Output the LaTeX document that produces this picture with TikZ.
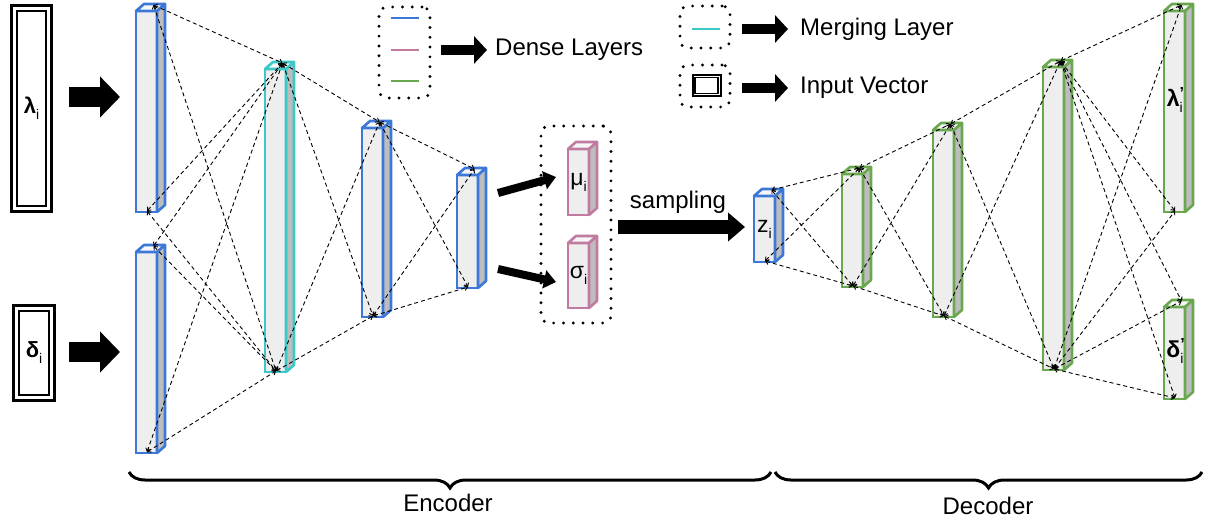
\documentclass[tikz,border=0pt]{standalone}
\usepackage{fontspec}
\setmainfont{Liberation Sans}
\usetikzlibrary{arrows.meta,calc,decorations.pathreplacing}

\definecolor{lblue}{HTML}{3C78D8}
\definecolor{lcyan}{HTML}{3CC8C8}
\definecolor{lpink}{HTML}{C27BA0}
\definecolor{lgreen}{HTML}{6AA84F}
\definecolor{facegray}{HTML}{EEEEEE}
\definecolor{topgray}{HTML}{F7F7F7}
\definecolor{sidegray}{HTML}{BDBDBD}

% label with a lowered index
\newcommand\lsub[2]{#1\raisebox{-6pt}{\fontsize{14}{14}\selectfont\mdseries #2}}
% label with a lowered index and a raised prime
\newcommand\lsubsup[3]{#1\rlap{\raisebox{-6pt}{\fontsize{14}{14}\selectfont\mdseries #2}}\raisebox{8pt}{\fontsize{16}{16}\selectfont #3}}

\tikzset{
  front/.style={draw=#1, fill=facegray, line width=2.6pt, rectangle, inner sep=0pt,
    outer sep=0pt, minimum width=21pt, font=\fontsize{22}{24}\selectfont},
  face/.style={draw=#1, line width=2.6pt, line join=round},
  link/.style={line width=0.9pt, dash pattern=on 4pt off 3pt,
    {Straight Barb[length=3pt,width=5pt]}-{Straight Barb[length=3pt,width=5pt]}},
  dotbox/.style={draw, line width=3.2pt, dash pattern=on 0pt off 9.8pt, line cap=round,
    rounded corners=8pt, inner sep=0pt, outer sep=0pt},
  inbox/.style={draw, line width=3pt, inner sep=0pt, outer sep=0pt,
    font=\fontsize{22}{24}\selectfont},
  bigarrow/.style={line width=20pt, -{Triangle[length=20pt,width=40pt]}},
  samparrow/.style={line width=14pt, -{Triangle[length=17pt,width=28pt]}},
  midarrow/.style={line width=8pt, -{Triangle[length=12pt,width=18pt]}},
  legarrow/.style={line width=10pt, -{Triangle[length=13pt,width=27pt]}},
  legline/.style={line width=2.8pt},
  txt/.style={font=\fontsize{24}{27}\selectfont, inner sep=0pt},
}

% one dense layer drawn as a prism: name, colour, left, top, bottom, label
\newcommand\layerbox[6]{%
  \pgfmathsetmacro\lbh{#5-#4}%
  \pgfmathsetmacro\lbx{#3+10.5}%
  \pgfmathsetmacro\lby{(#4+#5)/2}%
  \node[front=#2, minimum height=\lbh pt] (#1) at (\lbx,\lby) {};
  \filldraw[face=#2, fill=topgray] (#1.north west) -- ++(8,-7) -- ++(21,0) -- (#1.north east) -- cycle;
  \filldraw[face=#2, fill=sidegray] (#1.north east) -- ++(8,-7) -- ($(#1.south east)+(8,-7)$) -- (#1.south east) -- cycle;
  \node[font=\fontsize{23}{25}\selectfont, inner sep=0pt] (#1-lab) at (#1.center) {#6};
  \coordinate (#1-t) at ($(#1.north)+(7,-6)$);
  \coordinate (#1-b) at ($(#1.south)+(0.5,-1)$);
}

\begin{document}
\begin{tikzpicture}[x=1pt, y=-1pt]
\useasboundingbox (0,0) rectangle (1214,521);

% input vectors
\node[inbox, minimum width=40pt, minimum height=206pt] (lam) at (31.5,108.5) {\lsub{\bfseries λ}{i}};
\draw[line width=2.2pt] ($(lam.north west)+(5.5,5.5)$) rectangle ($(lam.south east)+(-5.5,-5.5)$);
\node[inbox, minimum width=41pt, minimum height=95pt] (del) at (34,353) {\lsub{\bfseries δ}{i}};
\draw[line width=2.2pt] ($(del.north west)+(5.5,5.5)$) rectangle ($(del.south east)+(-5.5,-5.5)$);

% encoder layers
\layerbox{L1}{lblue}{136}{11}{212}{}
\layerbox{L2}{lblue}{136}{252}{453}{}
\layerbox{C}{lcyan}{265}{69}{372}{}
\layerbox{L3}{lblue}{362}{128}{317}{}
\layerbox{L4}{lblue}{457}{175}{288}{}

% latent statistics
\node[dotbox, minimum width=70pt, minimum height=197pt] (ms) at (576,224.5) {};
\layerbox{mu}{lpink}{568}{149}{215}{\lsub{μ}{i}}
\layerbox{sg}{lpink}{568}{243}{308}{\lsub{σ}{i}}

% decoder layers
\layerbox{z}{lblue}{754}{196}{262}{\lsub{z}{i}}
\layerbox{G1}{lgreen}{842}{174}{287}{}
\layerbox{G2}{lgreen}{933}{130}{317}{}
\layerbox{G3}{lgreen}{1043}{67}{370}{}
\layerbox{Lp}{lgreen}{1164}{11}{212}{}
\layerbox{Dp}{lgreen}{1164}{307}{399}{}
\node[font=\fontsize{23}{25}\selectfont\bfseries, inner sep=0pt] (Lp-lab2) at ($(Lp.center)+(1,-12)$) {\lsubsup{λ}{i}{'}};
\node[font=\fontsize{23}{25}\selectfont\bfseries, inner sep=0pt] (Dp-lab2) at ($(Dp.center)+(1,-2)$) {\lsubsup{δ}{i}{'}};

% fully connected links
\foreach \a/\b in {L1/C, L2/C, C/L3, L3/L4, z/G1, G1/G2, G2/G3, G3/Lp, G3/Dp}
  \foreach \p in {t,b}
    \foreach \q in {t,b}
      \draw[link] (\a-\p) -- (\b-\q);

% block arrows
\coordinate (a1s) at (69,97);   \coordinate (a1e) at (120,97);
\coordinate (a2s) at (69,352);  \coordinate (a2e) at (120,352);
\draw[bigarrow] (a1s) -- (a1e);
\draw[bigarrow] (a2s) -- (a2e);
\coordinate (m1s) at (498,193); \coordinate (m1e) at (556,177);
\coordinate (m2s) at (498,269); \coordinate (m2e) at (556,282);
\draw[midarrow] (m1s) -- (m1e);
\draw[midarrow] (m2s) -- (m2e);
\coordinate (ss) at (618,227);  \coordinate (se) at (745,227);
\draw[samparrow] (ss) -- (se);
\node[txt] (samp) at (678,202) {sampling};

% legend
\node[dotbox, minimum width=51pt, minimum height=91pt] (leg1) at (404.5,52.5) {};
\draw[legline, lblue] ($(leg1.center)+(-14,-34.5)$) -- ++(28,0);
\draw[legline, lpink] ($(leg1.center)+(-14,-2.5)$) -- ++(28,0);
\draw[legline, lgreen] ($(leg1.center)+(-14,28.5)$) -- ++(28,0);
\coordinate (g1s) at (441,50); \coordinate (g1e) at (487,50);
\draw[legarrow] (g1s) -- (g1e);
\node[txt, anchor=west] (t1) at (495,50) {Dense Layers};

\node[dotbox, minimum width=50pt, minimum height=42pt] (leg2) at (705,27) {};
\draw[legline, lcyan] ($(leg2.center)+(-13,2)$) -- ++(28,0);
\coordinate (g2s) at (742,29); \coordinate (g2e) at (788,29);
\draw[legarrow] (g2s) -- (g2e);
\node[txt, anchor=west] (t2) at (800,29) {Merging Layer};

\node[dotbox, minimum width=50pt, minimum height=42pt] (leg3) at (705,86) {};
\node[draw, line width=2pt, minimum width=28pt, minimum height=21pt, inner sep=0pt] (leg3v) at (706.5,85.5) {};
\draw[line width=1.5pt] ($(leg3v.north west)+(3.5,3.5)$) rectangle ($(leg3v.south east)+(-3.5,-3.5)$);
\coordinate (g3s) at (742,88); \coordinate (g3e) at (788,88);
\draw[legarrow] (g3s) -- (g3e);
\node[txt, anchor=west] (t3) at (800,88) {Input Vector};

% encoder / decoder braces
\coordinate (encL) at (129,472); \coordinate (encR) at (771,472);
\coordinate (decL) at (775,472); \coordinate (decR) at (1202,472);
\draw[line width=3pt, decorate, decoration={brace, mirror, amplitude=16pt}] (encL) -- (encR);
\draw[line width=3pt, decorate, decoration={brace, mirror, amplitude=16pt}] (decL) -- (decR);
\node[txt] (enc) at (448,503) {Encoder};
\node[txt] (dec) at (988,506) {Decoder};
\end{tikzpicture}
\end{document}
